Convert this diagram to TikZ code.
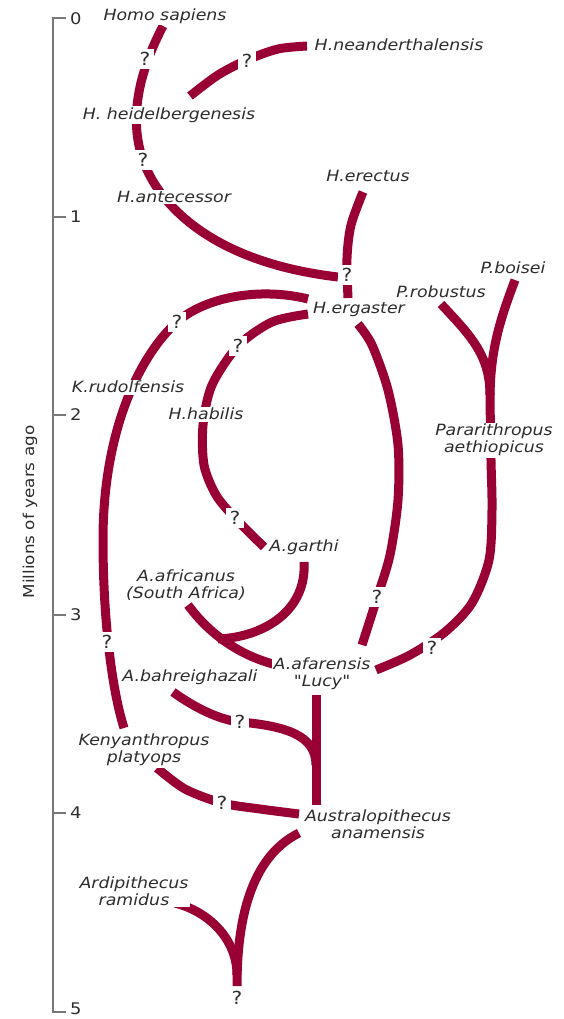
\documentclass[tikz,border=0pt]{standalone}
\usepackage{fontspec}
\newfontfamily\lblfont{DejaVu Sans}[FakeStretch=1.12]
\definecolor{branch}{RGB}{153,0,51}
\definecolor{txt}{RGB}{45,45,45}
\definecolor{axisgray}{RGB}{120,120,120}
\tikzset{
  branchline/.style={draw=branch, line width=9pt, line cap=butt, line join=round},
  taxon/.style={font=\lblfont\itshape\fontsize{15.5}{17}\selectfont, text=txt, fill=white, inner sep=1.5pt, align=center},
  qmark/.style={font=\lblfont\fontsize{18}{18}\selectfont, text=txt, fill=white, inner xsep=3.5pt, inner ysep=3pt},
  ticklbl/.style={font=\lblfont\fontsize{16}{16}\selectfont, text=txt, anchor=west, inner sep=0pt},
  axisline/.style={draw=axisgray, line width=2pt},
}
\begin{document}
\begin{tikzpicture}[x=1pt,y=-1pt]
\useasboundingbox (0,0) rectangle (563,1019);
\fill[white] (0,0) rectangle (563,1019);

% ---------- time axis ----------
\coordinate (axTop) at (53,18);
\coordinate (axBot) at (53,1012);
\draw[axisline] (66,18) -- (axTop) -- (axBot) -- (66,1012);
\foreach \yy in {217,415,615,813} \draw[axisline] (53,\yy) -- (66,\yy);
\node[ticklbl] (t0) at (70,19) {0};
\node[ticklbl] (t1) at (70,217) {1};
\node[ticklbl] (t2) at (70,415) {2};
\node[ticklbl] (t3) at (70,615) {3};
\node[ticklbl] (t4) at (70,813) {4};
\node[ticklbl] (t5) at (70,1009) {5};
\node[rotate=90, font=\lblfont\fontsize{15}{15}\selectfont, text=txt] (axlbl) at (30,512) {Millions of years ago};

% ---------- branch end points ----------
\coordinate (sapE) at (163,26);
\coordinate (antJ) at (143,160);
\coordinate (antE) at (338,277);
\coordinate (neaS) at (190,96);
\coordinate (neaE) at (307,46);
\coordinate (ereS) at (363,192);
\coordinate (ergN) at (348,298);
\coordinate (ergW1) at (308,299);
\coordinate (kenN) at (124,728);
\coordinate (ergW2) at (308,314);
\coordinate (garN) at (264,547);
\coordinate (ergS) at (358,324);
\coordinate (afaN) at (362,645);
\coordinate (boiS) at (515,280);
\coordinate (parS) at (490,400);
\coordinate (afaE) at (376,670);
\coordinate (robS) at (441,304);
\coordinate (parJ) at (490,395);
\coordinate (garS) at (304,562);
\coordinate (afrJ) at (218,639);
\coordinate (afrS) at (188,605);
\coordinate (afaW) at (273,664);
\coordinate (afaS) at (316,695);
\coordinate (anaN) at (316,805);
\coordinate (bahS) at (173,692);
\coordinate (bahQ) at (240,722);
\coordinate (anaJ) at (316,765);
\coordinate (kenS) at (157,768);
\coordinate (anaW) at (299,814);
\coordinate (anaSW) at (299,833);
\coordinate (root) at (237,986);
\coordinate (ardE) at (175,903);
\coordinate (ardJ) at (237,975);

% ---------- branches ----------
\draw[branchline] (sapE) .. controls (140,70) and (128,117) .. (antJ)
                         .. controls (158,203) and (210,262) .. (antE);
\draw[branchline] plot[smooth] coordinates {(neaS) (218,75) (247,60) (278,49) (neaE)};
\draw[branchline] plot[smooth] coordinates {(ereS) (351,225) (347,258) (ergN)};
\draw[branchline] (ergW1) .. controls (260,287) and (205,297) .. (177,322)
                          .. controls (140,355) and (103,430) .. (103,540)
                          .. controls (103,620) and (112,690) .. (kenN);
\draw[branchline] plot[smooth] coordinates {(ergW2) (272,322) (238,346) (212,385) (203,425) (204,465) (216,495) (235,518) (garN)};
\draw[branchline] plot[smooth] coordinates {(ergS) (372,345) (388,390) (398,445) (398,500) (390,555) (377,598) (afaN)};
\draw[branchline] (boiS) .. controls (500,320) and (490,350) .. (parS);
\draw[branchline] plot[smooth] coordinates {(parS) (491,460) (492,510) (489,560) (472,603) (445,632) (410,655) (afaE)};
\draw[branchline] (robS) .. controls (470,335) and (490,355) .. (parJ);
\draw[branchline] (garS) .. controls (307,610) and (265,637) .. (afrJ);
\draw[branchline] (afrS) .. controls (210,635) and (240,655) .. (afaW);
\draw[branchline] (afaS) -- (anaN);
\draw[branchline] (bahS) .. controls (195,708) and (220,720) .. (bahQ)
                         .. controls (285,726) and (316,735) .. (anaJ);
\draw[branchline] plot[smooth] coordinates {(kenS) (185,789) (222,803) (260,809) (anaW)};
\draw[branchline] (anaSW) .. controls (255,855) and (237,910) .. (root);
\draw[branchline] (ardE) .. controls (210,912) and (237,940) .. (ardJ);

% ---------- taxa ----------
\node[taxon] (sapiens) at (165,16) {Homo sapiens};
\node[taxon] (neander) at (399,45) {H.neanderthalensis};
\node[taxon] (heidel) at (169,115) {H. heidelbergenesis};
\node[taxon] (antec) at (174,197) {H.antecessor};
\node[taxon] (erectus) at (368,176) {H.erectus};
\node[taxon] (ergaster) at (359,309) {H.ergaster};
\node[taxon] (robustus) at (441,292) {P.robustus};
\node[taxon] (boisei) at (513,268) {P.boisei};
\node[taxon] (rudolf) at (128,387) {K.rudolfensis};
\node[taxon] (habilis) at (206,414) {H.habilis};
\node[taxon] (garthi) at (304,547) {A.garthi};
\node[taxon] (africanus) at (186,585) {A.africanus\\(South Africa)};
\node[taxon] (aethiop) at (494,440) {Pararithropus\\aethiopicus};
\node[taxon] (afarensis) at (322,674) {A.afarensis\\"Lucy"};
\node[taxon] (bahr) at (190,677) {A.bahreighazali};
\node[taxon] (kenya) at (144,750) {Kenyanthropus\\platyops};
\node[taxon] (anamensis) at (378,824) {Australopithecus\\anamensis};
\node[taxon] (ardi) at (134,891) {Ardipithecus\\ramidus};

% ---------- question marks ----------
\node[qmark] (q1) at (145,59) {?};
\node[qmark] (q2) at (247,61) {?};
\node[qmark] (q3) at (143,160) {?};
\node[qmark] (q4) at (347,275) {?};
\node[qmark] (q5) at (177,322) {?};
\node[qmark] (q6) at (238,346) {?};
\node[qmark] (q7) at (235,518) {?};
\node[qmark] (q8) at (377,597) {?};
\node[qmark] (q9) at (432,648) {?};
\node[qmark] (q10) at (107,642) {?};
\node[qmark] (q11) at (240,722) {?};
\node[qmark] (q12) at (222,803) {?};
\node[qmark] (q13) at (237,998) {?};
\end{tikzpicture}
\end{document}
